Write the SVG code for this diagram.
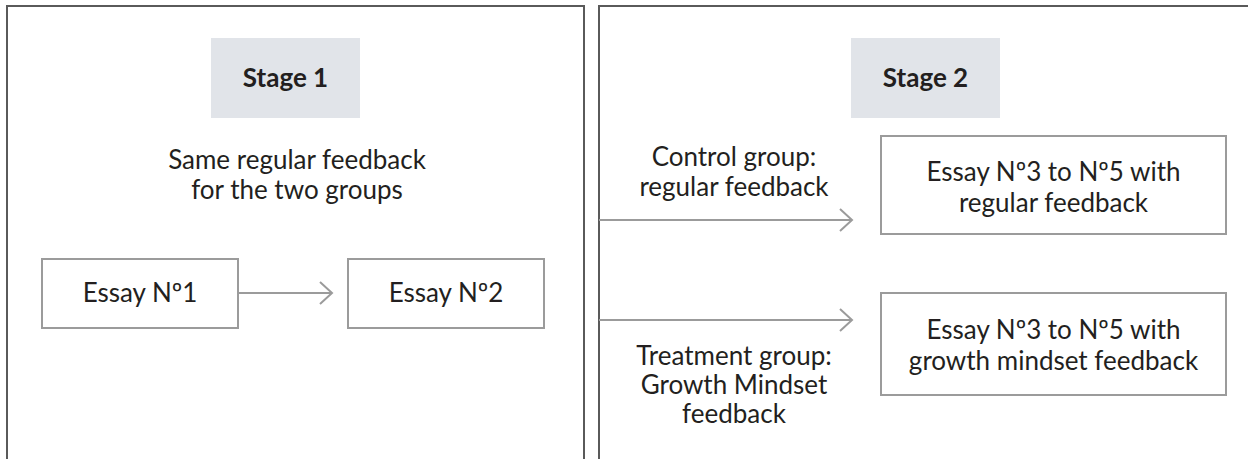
<svg xmlns="http://www.w3.org/2000/svg" width="1248" height="459" viewBox="0 0 1248 459">
<style>
.panel{fill:none;stroke:#5a5a5a;stroke-width:2}
.stage{fill:#e1e4e9;stroke:none}
.box{fill:#fff;stroke:#9b9b9b;stroke-width:2}
.t{font-family:Lato,"Open Sans","Liberation Sans",sans-serif;font-size:26px;fill:#231f20;text-anchor:middle}
.b{font-weight:bold;font-size:26px}
.conn{fill:none;stroke:#9b9b9b;stroke-width:2}
</style>
<defs>
<marker id="arr" markerWidth="16" markerHeight="24" refX="13" refY="12" orient="auto" markerUnits="userSpaceOnUse">
<path d="M1,1 L13,12 L1,23" fill="none" stroke="#9b9b9b" stroke-width="2"/>
</marker>
</defs>
<g id="panel1">
<path class="panel" d="M7,459 V6 H584 V459"/>
</g>
<g id="panel2">
<path class="panel" d="M599,459 V6 H1249"/>
</g>
<g id="stage1">
<rect class="stage" x="211" y="38" width="149" height="80"/>
<text class="t b" x="285.5" y="87">Stage 1</text>
</g>
<g id="stage2">
<rect class="stage" x="851" y="38" width="149" height="80"/>
<text class="t b" x="925.5" y="87">Stage 2</text>
</g>
<g id="note1">
<text class="t" x="297" y="169">Same regular feedback</text>
<text class="t" x="297" y="199">for the two groups</text>
</g>
<g id="essay1">
<rect class="box" x="42" y="259" width="196" height="69"/>
<text class="t" x="140" y="302">Essay Nº1</text>
</g>
<g id="essay2">
<rect class="box" x="348" y="259" width="196" height="69"/>
<text class="t" x="446" y="302">Essay Nº2</text>
</g>
<g id="control">
<text class="t" x="734" y="166">Control group:</text>
<text class="t" x="734" y="196">regular feedback</text>
</g>
<g id="treatment">
<text class="t" x="734" y="365">Treatment group:</text>
<text class="t" x="734" y="394">Growth Mindset</text>
<text class="t" x="734" y="423">feedback</text>
</g>
<g id="essayA">
<rect class="box" x="881" y="136" width="345" height="98"/>
<text class="t" x="1053.5" y="181">Essay Nº3 to Nº5 with</text>
<text class="t" x="1053.5" y="212">regular feedback</text>
</g>
<g id="essayB">
<rect class="box" x="881" y="293" width="345" height="102"/>
<text class="t" x="1053.5" y="339">Essay Nº3 to Nº5 with</text>
<text class="t" x="1053.5" y="370">growth mindset feedback</text>
</g>
<g id="connectors">
<path class="conn" d="M238,293 H332" marker-end="url(#arr)"/>
<path class="conn" d="M599,220 H852" marker-end="url(#arr)"/>
<path class="conn" d="M599,320 H852" marker-end="url(#arr)"/>
</g>
</svg>
